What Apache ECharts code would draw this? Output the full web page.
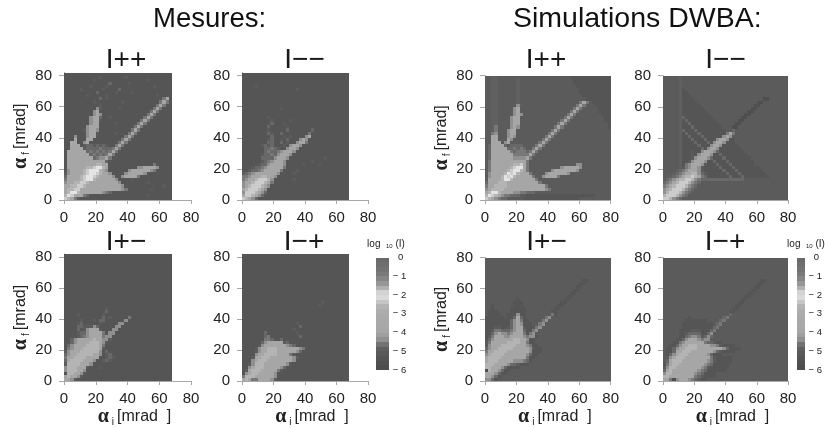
<!DOCTYPE html>
<html><head><meta charset="utf-8">
<script src="https://cdn.jsdelivr.net/npm/echarts@6/dist/echarts.min.js"></script>
<style>html,body{margin:0;background:#fff}#c{width:825px;height:428px;filter:blur(0.7px)}</style>
</head><body><div id="c"></div>
<script>
// Each character is a gray level; rows run top to bottom, 2 mrad per cell.
const levelValues = [-5.7,-5.3,-5.0,-4.7,-4.58,-4.4,-4.0,-2.6,-2.3,-2.0,-4.85];
const tickValues = [0,20,40,60,80];
const colorbarTicks = [0,-1,-2,-3,-4,-5,-6];
const colorbarLevels = [-6,-5.75,-5.5,-5.25,-5,-4.75,-4.5,-4.25,-4,-3.75,-3.5,-3.25,-3,-2.75,-2.5,-2.25,-2,-1.75,-1.5,-1.25,-1,-0.75,-0.5,-0.25];
const grayStops = [[-6,0x4c],[-5.7,0x4f],[-5.3,0x55],[-5,0x5b],[-4.85,0x60],[-4.7,0x68],[-4.58,0x78],[-4.4,0x90],[-4,0xa6],[-3,0xaa],[-2.6,0xb4],[-2.3,0xcc],[-2,0xe4],[-1.5,0xa0],[-1,0x7c],[-0.5,0x70],[0,0x68]];

const mesuresPP = [
"1111111111 1111111111 1111111111 1111",
"1111111111 1211111112 1111111111 1111",
"1111111112 1111111111 1111112111 1111",
"1111111111 1111311111 2111111111 1111",
"1111111121 1112111111 1111111121 1111",
"1111121111 1121111311 1111111111 1111",
"1111111111 3111112111 1211111111 1111",
"1111111211 1112111111 1111111112 1111",
"1111111111 1312111111 1111111111 1461",
"1111111112 1111111121 1111111111 4641",
"1111111111 1211111111 1111111114 6411",
"1111111111 5211111211 1111111146 4111",
"1111111115 6111111111 1111111464 1111",
"1111111115 6511111111 1111114641 1111",
"1111111156 6311211111 1111146411 1111",
"1111111156 6211111111 1111464111 1111",
"1111111156 6111112111 1114641111 1111",
"1111111566 6111111111 1146411111 1111",
"1111112566 5111111111 1464111111 1111",
"1111111566 2111112111 4641111111 1111",
"1115111566 1111111114 6411111111 1111",
"1116111661 1111111146 4111111111 1111",
"1166115611 1111111464 1111111111 1111",
"1166612332 3232114641 1111111111 1111",
"1166662333 3433346411 1111111111 1111",
"1666666343 4343464111 1111111111 1111",
"1666666634 3434641111 1111111111 1111",
"1666666663 4556411111 1111111111 1111",
"1666666666 6663111111 1111111111 1111",
"1666666666 7766111111 1111111141 1111",
"1666666778 9976111111 1115566665 1111",
"1566667899 9765111111 5666666541 1111",
"2566667899 8766511115 6666651111 1111",
"3666678998 7666651156 6664111111 1111",
"4666678997 6666665111 1211111111 1111",
"5667788766 6666666511 1111112111 1111",
"6677887666 6666666651 1111111111 1211",
"6778866666 6666666654 1111111211 1111",
"6799766666 6654311111 1111111111 1111",
"7986664311 1111111111 1111112111 1111",
"8764211111 1111111111 1111111111 1111"];

const mesuresMM = [
"1111111111 1111111111 1111111111 1111",
"1111111111 1111111111 1111111111 1111",
"1111111111 1111111111 1111111111 1111",
"1111111111 1111111111 1111111111 1111",
"1111211111 1111111111 1111111111 1111",
"1111111111 1111111211 1111111111 1111",
"1111111111 1111111111 1111111111 1111",
"1111111111 1111111111 1111111111 1111",
"1111111111 1111111111 1111111111 1111",
"1111111111 1111111111 1111111111 1111",
"1111111111 1111111111 1111111111 1111",
"1111111111 1121111111 1111111111 1111",
"1111111111 1111111111 1111111111 1111",
"1111111111 1111111111 1111111111 1111",
"1111111121 1111111111 1111111111 1111",
"1111111112 1111121111 1111111111 1111",
"1111111113 1112111111 1111111111 1111",
"1111111131 1111211111 1111111111 1111",
"1111111121 1111311111 1131111111 1111",
"1111111132 1131111111 1411111111 1111",
"1111111113 1112121111 5611111111 1111",
"1111111123 1121311156 5111111111 1111",
"1111111133 1131211566 4111111111 1111",
"1111112323 1112156651 1111111111 1111",
"1111111334 3211566511 1111111111 1111",
"1111111343 3456665111 1111111111 1111",
"1111112334 3566651111 1111111111 1111",
"1111113333 5666511111 1111112111 1111",
"1111112345 6665111111 1121111111 1111",
"1111123356 6665111112 1111211111 1111",
"1112334566 6664111111 1111111111 1111",
"1123345666 6641111211 1111111111 1111",
"2345666666 6511112111 1111111111 1111",
"4456667766 5111111111 1111111111 1111",
"4566788875 1111112111 1111111111 1111",
"5667888764 1111111111 1111111111 1111",
"5678887651 1111111111 1111111111 1111",
"6788876511 1111111111 1111111111 1111",
"5888765311 1111111111 1111111111 1111",
"6887653111 1111111111 1111111111 1111",
"8765311111 1111111111 1111111111 1111"];

const mesuresPM = [
"1111111111 1111111111 1111111111 1111",
"1111111111 1111111111 1111111111 1111",
"1111111111 1111111111 1111111111 1111",
"1111111111 1111111111 1111111111 1111",
"1111111111 1111111111 1111111111 1111",
"1111111111 1111111111 1111111111 1111",
"1111111111 1111111111 1111111111 1111",
"1111111111 1111111111 1111111111 1111",
"1111111111 1111111111 1111111111 1111",
"1111111111 1111111111 1111111111 1111",
"1111111111 1111111111 1111111111 1111",
"1111111111 1111111111 1111111111 1111",
"1111111111 1111111111 1111111111 1111",
"1111111111 1111111111 1111111111 1111",
"1111111111 1111111111 1111111111 1111",
"1111111111 1111111111 1111111111 1111",
"1111111111 1111111111 1111111111 1111",
"1111111111 1112111111 1111111111 1111",
"1111111111 1113111111 1111111111 1111",
"1111211111 1121111111 1111111111 1111",
"1111111111 1131211111 4111111111 1111",
"1111121112 1331111115 1111111111 1111",
"1111231111 1211111551 1111111111 1111",
"1111332225 3111115511 1111111111 1111",
"1111312566 6211155111 1111111111 1111",
"1111233566 6641551111 1111111111 1111",
"1111234566 6645511111 1111111111 1111",
"1135666667 6655211111 1111111111 1111",
"1135666677 7652111111 1111111111 1111",
"1356666777 7641111111 1111111111 1111",
"1456667777 7621111111 1111111111 1111",
"2566677777 7513111111 1111111111 1111",
"3566777776 6512311111 1111111111 1111",
"4667777666 6112321111 1111111111 1111",
"3677776665 1123211111 1111111111 1111",
"2777766651 1111111111 1111111111 1111",
"5777666211 1211111111 1111111111 1111",
"5777665111 1111111111 1111111111 1111",
"1776652111 1111111111 1111111111 1111",
"6766521111 1111111111 1111111111 1111",
"6652111111 1111111111 1111111111 1111"];

const mesuresMP = [
"1111111111 1111111111 1111111111 1111",
"1111111111 1111111111 1111111111 1111",
"1111111111 1111111111 1111111111 1111",
"1111111111 1111111111 1111111111 1111",
"1111111111 1111111111 1111111111 1111",
"1111111111 1111111111 1111111111 1111",
"1111111111 1111111111 1111111111 1111",
"1111111111 1111111111 1111111111 1111",
"1111111111 1111111111 1111111111 1111",
"1111111111 1111111111 1111111111 1111",
"1111111111 1111111111 1111111111 1111",
"1111111111 1111111111 1111111111 1111",
"1111111111 1111111111 1111111111 1111",
"1111111111 1111111111 1111111111 1111",
"1111111111 1111111111 1111111111 1111",
"1111111111 1111111111 1111121111 1111",
"1111111111 1111111111 1111211111 1111",
"1111111111 1111111111 1111111111 1111",
"1111111111 1111111111 1111111111 1111",
"1111111111 1111111111 1111111111 1111",
"1111111111 1111111111 1111111111 1111",
"1111111111 1111111111 1111111111 1111",
"1111111111 1111111211 1111111111 1111",
"1111111111 1111111131 1111111111 1111",
"1111111111 1111112111 1111111111 1111",
"1111111311 1111111211 1111111111 1111",
"1111111341 1111111131 1111111111 1111",
"1111111443 1131111111 1111111111 1111",
"1111113566 6662311111 1111111111 1111",
"1111125666 6666543111 1111111111 1111",
"1111256677 7666666654 1111111111 1111",
"1111256677 7666666531 1111111111 1111",
"1111566777 7666642111 1111111111 1111",
"1112667776 6666665211 1111111111 1111",
"1115677766 6666665111 1111111111 1111",
"1125777666 6666521111 1111111111 1111",
"1156777666 6653111111 1111111111 1111",
"1267776666 6421111111 1111111111 1111",
"1567766666 5111111111 1111111111 1111",
"4777666666 5111111111 1111111111 1111",
"6764466665 2111111111 1111111111 1111"];

const simPP = [
"22aa222222 2222222222 2222222111 1111111111",
"22aa222222 a222222222 2222222211 1111111111",
"22aa222222 a222222222 2222222211 1111111111",
"22aa222222 a222222222 2222222221 1111111111",
"22aa222222 a222222222 2222222222 1111111111",
"22aa222222 a222222222 2222222222 1111111111",
"22aa222222 a222222222 2222222222 2111111111",
"22aa222222 a222222222 2222222222 2211111111",
"22aa222222 a222222222 2222222222 4642111111",
"22aa222222 5a22222222 2222222224 6422211111",
"22aa222225 6222222222 2222222246 4222221111",
"22aa222225 6222222222 2222222464 2222221111",
"22aa222225 6522222222 2222224642 2222222111",
"22aa222256 6222222222 2222246422 2222222211",
"22aa222256 6222222222 2222464222 2222222211",
"22aa222256 6222222222 2224642222 2222222221",
"22a4222256 5222222222 2246422222 2222222221",
"22a4222566 2222222222 2464222222 2222222222",
"2245222566 2222222222 4642222222 2222222222",
"2266222565 2222222224 6422222222 2222222222",
"2266222652 2222222246 4222222222 2222222222",
"2266625622 2222222464 2222222222 2222222222",
"2366663233 3322224642 2222222222 2222222222",
"2366666334 3432246422 2222222222 2222222222",
"2366666643 4443464222 2222222222 2222222222",
"2366666664 4444642222 2222222222 2222222222",
"2366666665 5556422222 2222222222 2222222222",
"2466666666 6664222222 2222222222 2222222222",
"2466666667 7864222222 2222222225 5222222222",
"2466666678 9964222222 2222566666 5222222222",
"2466666789 9764222222 2566666665 2222222222",
"2566667989 7666422225 6666665222 2222222222",
"2566679897 6666642256 6664222222 2222222222",
"2666679976 6666664222 2222222222 2222222222",
"3666777666 6666666422 2222222222 2222222222",
"4667777666 6666666664 2222222222 2222222222",
"5677776666 6666666665 4222222222 2222222222",
"6799766665 5443332222 2222222222 2222222222",
"7987654433 3221111111 1111111111 1111122222",
"8765433222 2211111111 1111111111 2222222222"];

const simMM = [
"22222a2222 2222222222 2222222222 2222222222",
"22222a2222 2222222222 2222222222 2222222222",
"22222a2222 2222222222 2222222222 2222222222",
"22222a2222 2222222222 2222222222 2222222222",
"22222a1222 2222222222 2222222222 2222222222",
"22222a1122 2222222222 2222222222 2222222222",
"22222a1112 2222222222 2222222222 2222222222",
"22222a1111 2222222222 2222222222 2200222222",
"22222a1111 1222222222 2222222222 0022222222",
"22222a1111 1122222222 2222222220 0222222222",
"22222a1111 1112222222 2222222200 2222222222",
"22222a1111 1111222222 2222222002 2222222222",
"22222a1111 1111122222 2222220022 2222222222",
"22222a3111 1111112222 2222200222 2222222222",
"22222a1311 1111111222 2222002222 2222222222",
"22222a1131 1111111122 2220022222 2222222222",
"22222a1113 1111111112 2200222222 2222222222",
"22222a3111 3111111111 2232222222 2222222222",
"22222a1311 1311111111 4642222222 2222222222",
"22222a1131 1131111115 6522222222 2222222222",
"22222a1113 1113111566 5112222222 2222222222",
"22222a1111 3111315665 1112222222 2222222222",
"22222a1111 1311156651 1111222222 2222222222",
"22222a1111 1131566511 1111122222 2222222222",
"22222a1112 1156665311 1111112222 2222222222",
"22222a1112 1566651131 1111111222 2222222222",
"22222a1112 5666531113 1111111122 2222222222",
"22222a1125 6665113111 3111111112 2222222222",
"22222a1456 6652111311 1311111112 2222222222",
"22222a2456 6521111131 1131111111 1222222222",
"2222a34566 6521111113 1113111111 1122222222",
"222a345667 7532111111 3111311111 1112222222",
"22a3456778 7643111111 1311131111 1111222222",
"2345677887 5433333333 3333332222 2222222222",
"3456788875 4322222222 2222222222 2222222222",
"4567888754 3222222222 2222222222 2222222222",
"5678887543 2222222222 2222222222 2222222222",
"5788875432 2222222222 2222222222 2222222222",
"7888754322 2222222222 2222222222 2222222222",
"8875432222 2222222222 2222222222 2222222222"];

const simPM = [
"2222222222 2222222222 2222222222 2222222222",
"2222222222 2222222222 2222222222 2222222222",
"2222222222 2222222222 2222222222 2222222222",
"2222222222 2222222222 2222222222 2222222222",
"2222222222 2222222222 2222222222 2222222222",
"2222222222 2222222222 2222222222 2222222222",
"2222222222 2222222222 2222222222 2222222222",
"2222222222 2222222222 2222222222 2112222222",
"2222222222 2222222222 2222222222 1122222222",
"2222222222 2222222222 2222222221 1222222222",
"2222222222 2222222222 2222222211 2222222222",
"2222222222 2222222222 2222222112 2222222222",
"2222222222 2222222222 2222221122 2222222222",
"2222222222 1222222222 2222211222 2222222222",
"2222222221 1122222222 2222112222 2222222222",
"2212222221 1122222222 2221122222 2222222222",
"2212222211 1112222222 2211222222 2222222222",
"2111222211 1112222222 2112222222 2222222222",
"2111122111 5112222222 2412222222 2222222222",
"1111112113 6312222224 5222222222 2222222222",
"1111111135 6411222245 2222222222 2222222222",
"1111111135 6511122452 2222222222 2222222222",
"1112211235 6621114522 2222222222 2222222222",
"1124433345 6631145222 2222222222 2222222222",
"1135655456 6641452222 2222222222 2222222222",
"1246665566 6654551222 2222222222 2222222222",
"1356666667 7665112222 2222222222 2222222222",
"2466666777 7664112222 2222222222 2222222222",
"2566677777 6665411222 2222222222 2222222222",
"3566777776 6666521122 2222222222 2222222222",
"4667777666 6666511122 2222222222 2222222222",
"5677776666 6665311222 2222222222 2222222222",
"6777766666 6664112222 2222222222 2222222222",
"6777666665 5543122222 2222222222 2222222222",
"7776666533 2111222222 2222222222 2222222222",
"7766653111 1222222222 2222222222 2222222222",
"0766531122 2222222222 2222222222 2222222222",
"6665311222 2222222222 2222222222 2222222222",
"6653122222 2222222222 2222222222 2222222222",
"5531222222 2222222222 2222222222 2222222222"];

const simMP = [
"2222222222 2222222222 2222222222 2222222222",
"2222222222 2222222222 2222222222 2222222222",
"2222222222 2222222222 2222222222 2222222222",
"2222222222 2222222222 2222222222 2222222222",
"2222222222 2222222222 2222222222 2222222222",
"2222222222 2222222222 2222222222 2222222222",
"2222222222 2222222222 2222222222 2222222222",
"2222222222 2222222222 2222222222 2112222222",
"2222222222 2222222222 2222222222 1122222222",
"2222222222 2222222222 2222222221 1222222222",
"2222222222 2222222222 2222222211 2222222222",
"2222222222 2222222222 2222222112 2222222222",
"2222222222 2222222222 2222221122 2222222222",
"2222222222 2222222222 2222211222 2222222222",
"2222222222 2222222222 2222112222 2222222222",
"2222222222 2222222222 2221122222 2222222222",
"2222222222 2222222222 2211222222 2222222222",
"2222222222 2222222222 2112222222 2222222222",
"2222222222 2222222222 2322222222 2222222222",
"2222222212 2222222223 4222222222 2222222222",
"2222222111 1111222234 2222222222 2222222222",
"2222221111 1111112342 2222222222 2222222222",
"2222221111 1111113422 2222222222 2222222222",
"2222211112 2211134222 2222222222 2222222222",
"2222211233 3311352222 2222222222 2222222222",
"2222211345 5423532222 2222222222 2222222222",
"2222113566 6545522222 2222222222 2222222222",
"2221145666 6664332112 2222222222 2222222222",
"2211356677 7666655421 1112222222 2222222222",
"2113566777 7666666665 3111122222 2222222222",
"2113667776 6666665321 1112222222 2222222222",
"2135677766 6666531112 2222222222 2222222222",
"2256777666 6666642111 1122222222 2222222222",
"2367776666 6666542111 1122222222 2222222222",
"1467766666 6665431111 1222222222 2222222222",
"2577666666 6654211111 1222222222 2222222222",
"3676666666 6543111111 2222222222 2222222222",
"5776666666 5431111222 2222222222 2222222222",
"7766666666 4321111222 2222222222 2222222222",
"6640566654 3211222222 2222222222 2222222222"];

const panelTitles = ["I++","I\u2212\u2212","I+\u2212","I\u2212+","I++","I\u2212\u2212","I+\u2212","I\u2212+"];

const panels = [
 {rows:mesuresPP,l:64,t:72.5,w:127,h:127.5,yMax:82,tx:126,ty:46},
 {rows:mesuresMM,l:242,t:72.5,w:126,h:127.5,yMax:82,tx:304.5,ty:46},
 {rows:mesuresPM,l:64,t:254,w:127,h:127,yMax:82,tx:126,ty:228,nx:1},
 {rows:mesuresMP,l:242,t:254,w:126,h:127,yMax:82,tx:304,ty:228,nx:1},
 {rows:simPP,l:485,t:75.7,w:125.7,h:124.3,yMax:80,tx:546,ty:46},
 {rows:simMM,l:663,t:75.7,w:125,h:124.3,yMax:80,tx:725.5,ty:46},
 {rows:simPM,l:485,t:257.7,w:125.7,h:123.3,yMax:80,tx:546.5,ty:228,nx:1},
 {rows:simMP,l:663,t:257.7,w:125,h:123.3,yMax:80,tx:725,ty:228,nx:1}
];
const bars = [{l:376,t:257.5,w:12.7,h:112.5,tx:386,ty:239},{l:796.7,t:257.5,w:12.3,h:112.5,tx:806,ty:239}];

function grayFor(v){
  for(let i=1;i<grayStops.length;i++){
    if(v<=grayStops[i][0]){
      const a=grayStops[i-1],b=grayStops[i];
      const g=Math.round(a[1]+(b[1]-a[1])*(v-a[0])/(b[0]-a[0]));
      return 'rgb('+g+','+g+','+g+')';
    }
  }
  return '#686868';
}
function cellRenderer(cw,ch){
  return function(params,api){
    const x=api.value(0),y=api.value(1);
    const a=api.coord([x,y+ch]),b=api.coord([x+cw,y]);
    const x0=Math.round(a[0]),y0=Math.round(a[1]);
    return {type:'rect',shape:{x:x0,y:y0,width:Math.round(b[0])-x0,height:Math.round(b[1])-y0},
            style:{fill:grayFor(api.value(2))},silent:true};
  };
}
const AX='#a8a8a8', TXT='#222';
const rich={a:{fontSize:20,fontWeight:'bold',color:TXT,fontFamily:'Liberation Serif'},s:{fontSize:10,color:TXT,verticalAlign:'bottom',padding:[8,3,0,3]},t:{fontSize:16,color:TXT}};
const opt={animation:false,backgroundColor:'#fff',textStyle:{fontFamily:'Liberation Sans'},
 grid:[],xAxis:[],yAxis:[],series:[],
 title:[
  {text:'Mesures:',left:153,top:5,padding:0,textStyle:{fontSize:27.5,fontWeight:'normal',color:'#111'}},
  {text:'Simulations DWBA:',left:513,top:5,padding:0,textStyle:{fontSize:28.5,fontWeight:'normal',color:'#111'}}
 ]};
panels.forEach((p,i)=>{
  opt.grid.push({left:p.l,top:p.t,width:p.w,height:p.h});
  const data=[];
  const n=p.rows.length;
  p.rows.forEach((row,r)=>{
    const s=row.replace(/ /g,'');
    for(let c=0;c<s.length;c++) data.push([c*2,(n-1-r)*2,levelValues[parseInt(s[c],16)]]);
  });
  opt.xAxis.push({type:'value',gridIndex:i,min:0,max:80,interval:20,
    axisLine:{lineStyle:{color:AX}},splitLine:{show:false},
    axisTick:{length:4,lineStyle:{color:AX},customValues:tickValues},
    axisLabel:{color:TXT,fontSize:15,margin:10,customValues:tickValues},
    name:p.nx?'{a|\u03b1}{s|i}{t|[mrad  ]}':'',nameLocation:'middle',nameGap:26,
    nameTextStyle:{rich,padding:[0,0,0,14]}});
  opt.yAxis.push({type:'value',gridIndex:i,min:0,max:p.yMax,
    axisLine:{show:true,lineStyle:{color:AX}},splitLine:{show:false},
    axisTick:{show:true,length:5,lineStyle:{color:AX},customValues:tickValues},
    axisLabel:{color:TXT,fontSize:15,margin:12,customValues:tickValues},
    name:i%2===0?'{a|\u03b1}{s|f}{t|[mrad]}':'',nameLocation:'middle',nameGap:33,nameTextStyle:{rich}});
  opt.series.push({type:'custom',coordinateSystem:'cartesian2d',xAxisIndex:i,yAxisIndex:i,
    data,encode:{x:0,y:1},renderItem:cellRenderer(2,2),clip:true,silent:true,z:1});
  opt.title.push({text:panelTitles[i],left:p.tx,top:p.ty,padding:0,textAlign:'center',
    textStyle:{fontSize:28,fontWeight:'normal',color:'#1a1a1a'}});
});
bars.forEach((b,k)=>{
  const i=panels.length+k;
  opt.grid.push({left:b.l,top:b.t,width:b.w,height:b.h});
  opt.xAxis.push({type:'value',gridIndex:i,min:0,max:1,show:false});
  opt.yAxis.push({type:'value',gridIndex:i,min:-6,max:0,interval:1,position:'right',
    axisLine:{show:false},axisTick:{show:false},splitLine:{show:false},
    axisLabel:{color:TXT,fontSize:9.5,margin:4,customValues:colorbarTicks,
      formatter:v=>v===0?'  0':'\u2212 '+Math.abs(v)}});
  opt.series.push({type:'custom',coordinateSystem:'cartesian2d',xAxisIndex:i,yAxisIndex:i,
    data:colorbarLevels.map(v=>[0,v,v+0.125]),encode:{x:0,y:1},renderItem:cellRenderer(1,0.25),silent:true});
  opt.title.push({text:'log  {s|10} (I)',left:b.tx,top:b.ty,padding:0,textAlign:'center',
    textStyle:{fontSize:10,fontWeight:'normal',color:TXT,rich:{s:{fontSize:6,color:TXT,verticalAlign:'bottom',padding:[4,0,0,0]}}}});
});
echarts.init(document.getElementById('c'),null,{renderer:'canvas'}).setOption(opt);
</script></body></html>
